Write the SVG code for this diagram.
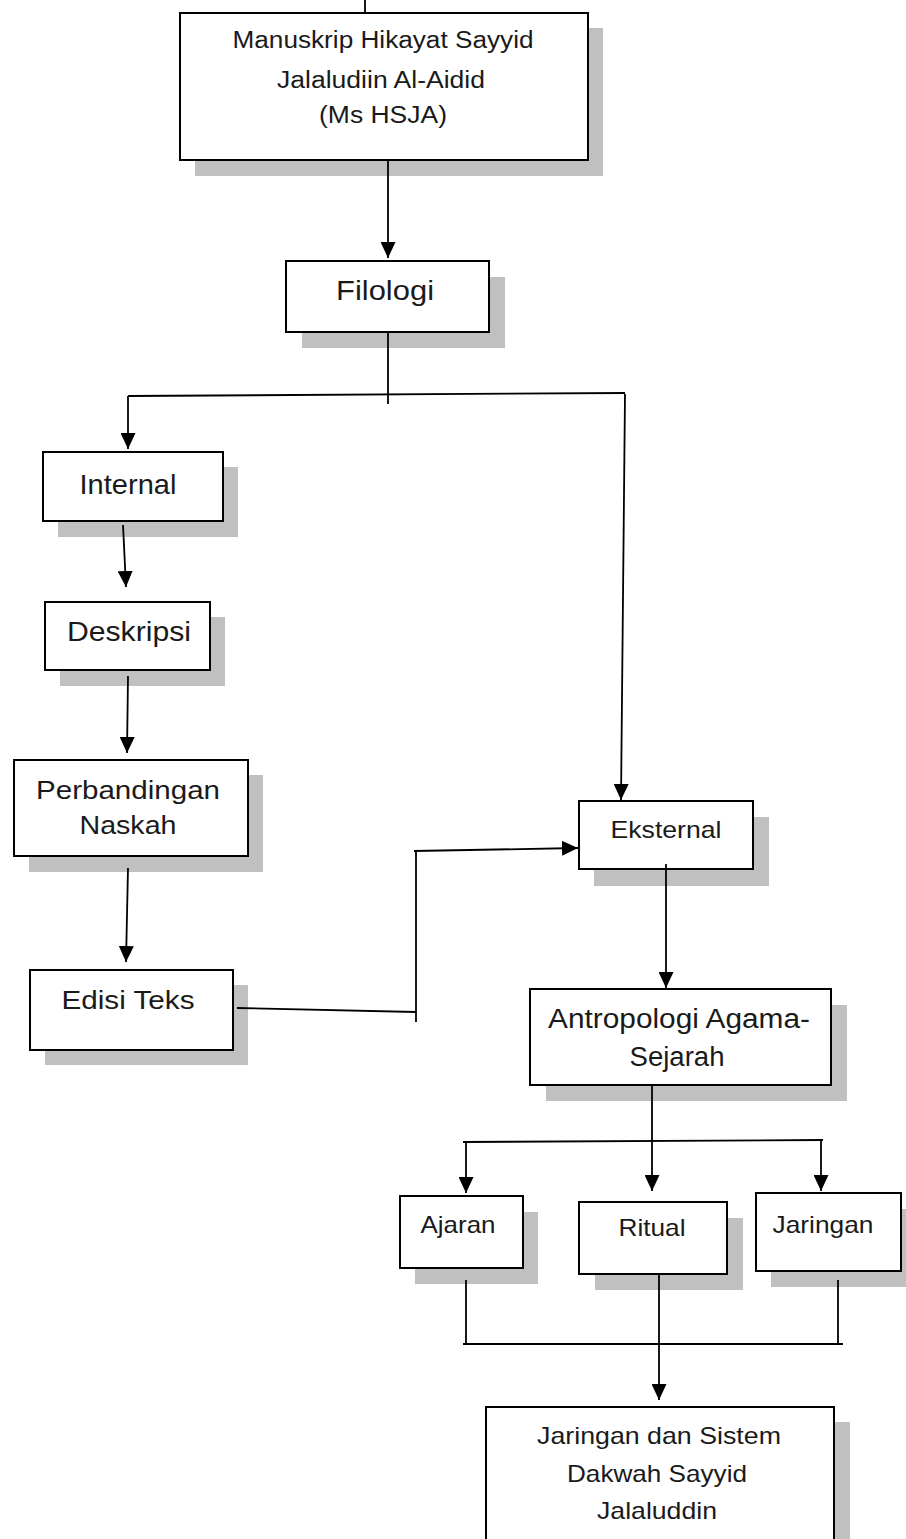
<svg xmlns="http://www.w3.org/2000/svg" width="906" height="1539" viewBox="0 0 906 1539">
<style>
.sh{fill:#c0c0c0;stroke:none}
.bx{fill:#fff;stroke:#000;stroke-width:2}
.t{font-family:"Liberation Sans",Arial,sans-serif;fill:#1a1a1a;text-anchor:middle}
.c{fill:none;stroke:#000;stroke-width:1.8}
</style>
<defs>
<marker id="ah" markerUnits="userSpaceOnUse" markerWidth="16" markerHeight="15" viewBox="0 0 16 15" refX="16" refY="7.5" orient="auto"><path d="M0,0 L16,7.5 L0,15 z" fill="#000"/></marker>
</defs>
<rect width="906" height="1539" fill="#fff"/>

<g id="node-manuskrip">
<rect class="sh" x="195" y="28" width="408" height="148"/>
<rect class="bx" x="180" y="13" width="408" height="147"/>
<text class="t" x="383" y="48" font-size="23" textLength="301" lengthAdjust="spacingAndGlyphs">Manuskrip Hikayat Sayyid</text>
<text class="t" x="381" y="88" font-size="23" textLength="208" lengthAdjust="spacingAndGlyphs">Jalaludiin Al-Aidid</text>
<text class="t" x="383" y="123" font-size="23" textLength="128" lengthAdjust="spacingAndGlyphs">(Ms HSJA)</text>
</g>

<g id="node-filologi">
<rect class="sh" x="302" y="277" width="203" height="71"/>
<rect class="bx" x="286" y="261" width="203" height="71"/>
<text class="t" x="385" y="300" font-size="28" textLength="98" lengthAdjust="spacingAndGlyphs">Filologi</text>
</g>

<g id="node-internal">
<rect class="sh" x="58" y="467" width="180" height="70"/>
<rect class="bx" x="43" y="452" width="180" height="69"/>
<text class="t" x="128" y="494" font-size="28" textLength="97" lengthAdjust="spacingAndGlyphs">Internal</text>
</g>

<g id="node-deskripsi">
<rect class="sh" x="60" y="617" width="165" height="69"/>
<rect class="bx" x="45" y="602" width="165" height="68"/>
<text class="t" x="129" y="641" font-size="27" textLength="124" lengthAdjust="spacingAndGlyphs">Deskripsi</text>
</g>

<g id="node-perbandingan">
<rect class="sh" x="29" y="775" width="234" height="97"/>
<rect class="bx" x="14" y="760" width="234" height="96"/>
<text class="t" x="128" y="799" font-size="26" textLength="184" lengthAdjust="spacingAndGlyphs">Perbandingan</text>
<text class="t" x="128" y="834" font-size="26" textLength="97" lengthAdjust="spacingAndGlyphs">Naskah</text>
</g>

<g id="node-edisi">
<rect class="sh" x="45" y="985" width="203" height="80"/>
<rect class="bx" x="30" y="970" width="203" height="80"/>
<text class="t" x="128" y="1009" font-size="25" textLength="133" lengthAdjust="spacingAndGlyphs">Edisi Teks</text>
</g>

<g id="node-eksternal">
<rect class="sh" x="594" y="817" width="175" height="69"/>
<rect class="bx" x="579" y="801" width="174" height="68"/>
<text class="t" x="666" y="838" font-size="24" textLength="111" lengthAdjust="spacingAndGlyphs">Eksternal</text>
</g>

<g id="node-antropologi">
<rect class="sh" x="546" y="1005" width="301" height="96"/>
<rect class="bx" x="530" y="989" width="301" height="96"/>
<text class="t" x="679" y="1028" font-size="27" textLength="262" lengthAdjust="spacingAndGlyphs">Antropologi Agama-</text>
<text class="t" x="677" y="1066" font-size="27" textLength="95" lengthAdjust="spacingAndGlyphs">Sejarah</text>
</g>

<g id="node-ajaran">
<rect class="sh" x="415" y="1212" width="123" height="72"/>
<rect class="bx" x="400" y="1196" width="123" height="72"/>
<text class="t" x="458" y="1233" font-size="24" textLength="75" lengthAdjust="spacingAndGlyphs">Ajaran</text>
</g>

<g id="node-ritual">
<rect class="sh" x="595" y="1218" width="148" height="72"/>
<rect class="bx" x="579" y="1202" width="148" height="72"/>
<text class="t" x="652" y="1236" font-size="24" textLength="67" lengthAdjust="spacingAndGlyphs">Ritual</text>
</g>

<g id="node-jaringan">
<rect class="sh" x="771" y="1209" width="145" height="78"/>
<rect class="bx" x="756" y="1193" width="145" height="78"/>
<text class="t" x="823" y="1233" font-size="24" textLength="101" lengthAdjust="spacingAndGlyphs">Jaringan</text>
</g>

<g id="node-jaringan-dakwah">
<rect class="sh" x="502" y="1422" width="348" height="140"/>
<rect class="bx" x="486" y="1407" width="348" height="150"/>
<text class="t" x="659" y="1444" font-size="24" textLength="244" lengthAdjust="spacingAndGlyphs">Jaringan dan Sistem</text>
<text class="t" x="657" y="1482" font-size="24" textLength="180" lengthAdjust="spacingAndGlyphs">Dakwah Sayyid</text>
<text class="t" x="657" y="1519" font-size="24" textLength="120" lengthAdjust="spacingAndGlyphs">Jalaluddin</text>
</g>

<g id="connectors">
<line class="c" x1="365" y1="0" x2="365" y2="13"/>
<line class="c" x1="388" y1="160" x2="388" y2="258" marker-end="url(#ah)"/>
<line class="c" x1="388" y1="332" x2="388" y2="404"/>
<line class="c" x1="128" y1="396" x2="625" y2="393"/>
<line class="c" x1="128" y1="396" x2="128" y2="449" marker-end="url(#ah)"/>
<line class="c" x1="625" y1="394" x2="621" y2="800" marker-end="url(#ah)"/>
<line class="c" x1="123" y1="525" x2="126" y2="587" marker-end="url(#ah)"/>
<line class="c" x1="128" y1="676" x2="127" y2="753" marker-end="url(#ah)"/>
<line class="c" x1="128" y1="868" x2="126" y2="962" marker-end="url(#ah)"/>
<line class="c" x1="237" y1="1008" x2="416" y2="1012"/>
<line class="c" x1="416" y1="1022" x2="416" y2="851"/>
<line class="c" x1="414" y1="851" x2="578" y2="848" marker-end="url(#ah)"/>
<line class="c" x1="666" y1="864" x2="666" y2="988" marker-end="url(#ah)"/>
<line class="c" x1="652" y1="1085" x2="652" y2="1191" marker-end="url(#ah)"/>
<line class="c" x1="463" y1="1142" x2="823" y2="1140"/>
<line class="c" x1="466" y1="1142" x2="466" y2="1193" marker-end="url(#ah)"/>
<line class="c" x1="821" y1="1140" x2="821" y2="1191" marker-end="url(#ah)"/>
<line class="c" x1="466" y1="1280" x2="466" y2="1344"/>
<line class="c" x1="838" y1="1280" x2="838" y2="1344"/>
<line class="c" x1="463" y1="1344" x2="843" y2="1344"/>
<line class="c" x1="659" y1="1274" x2="659" y2="1400" marker-end="url(#ah)"/>
</g>
</svg>
